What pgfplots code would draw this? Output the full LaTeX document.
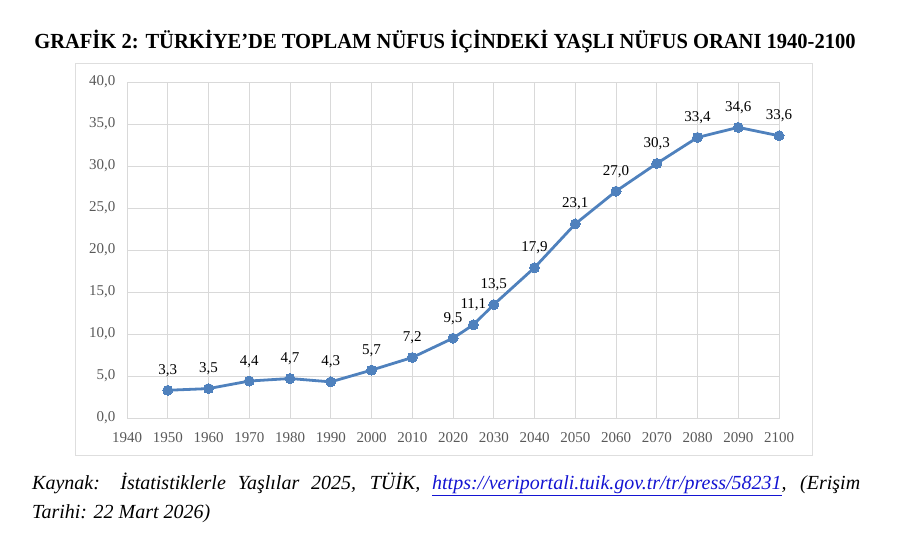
\documentclass[border=0pt]{standalone}
\usepackage{pgfplots}
\pgfplotsset{compat=1.18}
\usepackage{fontspec}
\setmainfont{Liberation Serif}
\definecolor{linecol}{RGB}{79,129,189}
\definecolor{gridgray}{RGB}{217,217,217}
\definecolor{boxgray}{RGB}{222,222,222}
\definecolor{ticktext}{RGB}{89,89,89}
\definecolor{linkblue}{RGB}{20,20,210}
\begin{document}
\begin{tikzpicture}[x=1pt,y=1pt]
\useasboundingbox (0,0) rectangle (900,546);
\draw[boxgray, line width=0.8pt] (75,91) rectangle (812.5,483);
\begin{axis}[
  at={(127pt,128pt)}, anchor=south west,
  scale only axis, width=652pt, height=336pt,
  xmin=1940, xmax=2100, ymin=0, ymax=40,
  xtick={1940,1950,...,2100}, ytick={0,5,...,40},
  grid=major, grid style={gridgray, line width=0.8pt},
  axis line style={gridgray, line width=0.8pt},
  major tick length=0pt,
  tick label style={font=\fontsize{15}{17}\selectfont, text=ticktext},
  /pgf/number format/assume math mode=true,
  xticklabel style={/pgf/number format/.cd, set thousands separator={}, fixed, precision=0},
  yticklabel style={/pgf/number format/.cd, fixed, fixed zerofill, precision=1, use comma},
  xticklabel shift=11pt, yticklabel shift=8pt,
  clip=false,
]
\addplot[color=linecol, line width=2.8pt, mark=*, mark size=5pt,
  mark options={fill=linecol, draw=linecol, line width=0pt, solid},
  nodes near coords={\pgfmathprintnumber[fixed,fixed zerofill,precision=1,use comma,assume math mode=true]{\pgfplotspointmeta}},
  nodes near coords style={font=\fontsize{15}{17}\selectfont, text=black, anchor=base, yshift=16pt},
  point meta=explicit,
] table[meta index=2] {
x y m
1950 3.3 3.3
1960 3.5 3.5
1970 4.4 4.4
1980 4.7 4.7
1990 4.3 4.3
2000 5.7 5.7
2010 7.2 7.2
2020 9.5 9.5
2025 11.1 11.1
2030 13.5 13.5
2040 17.9 17.9
2050 23.1 23.1
2060 27.0 27.0
2070 30.3 30.3
2080 33.4 33.4
2090 34.6 34.6
2100 33.6 33.6
};
\end{axis}
\node[anchor=base, inner sep=0pt, font=\fontsize{21.5}{24}\selectfont\bfseries] at (445,497) {\scalebox{0.955}[1]{GRAFİK 2: TÜRKİYE’DE TOPLAM NÜFUS İÇİNDEKİ YAŞLI NÜFUS ORANI 1940-2100}};
\node[anchor=base west, inner sep=0pt, font=\fontsize{20}{24}\selectfont\itshape] at (32,56) {\makebox[828pt][s]{Kaynak: İstatistiklerle Yaşlılar 2025, TÜİK, {\color{linkblue}\underline{https://veriportali.tuik.gov.tr/tr/press/58231}}, (Erişim}};
\node[anchor=base west, inner sep=0pt, font=\fontsize{20}{24}\selectfont\itshape] at (32,27) {Tarihi: 22 Mart 2026)};
\end{tikzpicture}
\end{document}
